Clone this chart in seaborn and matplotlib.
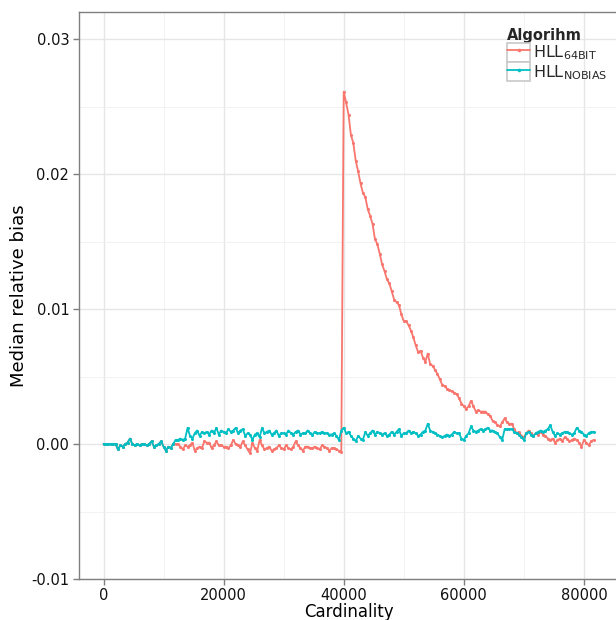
import matplotlib
matplotlib.use("Agg")
import matplotlib.pyplot as plt
import seaborn as sns
import pandas as pd
from matplotlib.lines import Line2D
from matplotlib.patches import Rectangle
from matplotlib.legend_handler import HandlerLine2D
from matplotlib.ticker import FixedLocator

# ---------------- data ----------------
cardinality = list(range(0, 81601, 400))

bias_nobias = [
    0.0000, 0.0000, 0.0000, 0.0000, 0.0000, 0.0000, -0.0004, -0.0001, -0.0002, 0.0000,
    0.0001, 0.0004, 0.0000, -0.0001, 0.0000, -0.0001, 0.0000, 0.0000, -0.0001, 0.0000,
    0.0002, -0.0002, -0.0001, 0.0000, 0.0002, -0.0002, -0.0005, -0.0002, -0.0003, 0.0000,
    0.0003, 0.0003, 0.0004, 0.0003, 0.0004, 0.0012, 0.0006, 0.0004, 0.0008, 0.0010,
    0.0006, 0.0009, 0.0008, 0.0009, 0.0007, 0.0010, 0.0008, 0.0012, 0.0007, 0.0010,
    0.0009, 0.0008, 0.0011, 0.0009, 0.0010, 0.0012, 0.0008, 0.0010, 0.0011, 0.0006,
    0.0008, 0.0007, 0.0003, 0.0007, 0.0008, 0.0005, 0.0012, 0.0008, 0.0009, 0.0010,
    0.0007, 0.0008, 0.0010, 0.0006, 0.0008, 0.0008, 0.0007, 0.0010, 0.0008, 0.0007,
    0.0009, 0.0010, 0.0007, 0.0008, 0.0008, 0.0010, 0.0008, 0.0007, 0.0009, 0.0008,
    0.0008, 0.0009, 0.0008, 0.0008, 0.0007, 0.0007, 0.0008, 0.0006, 0.0003, 0.0010,
    0.0012, 0.0008, 0.0009, 0.0006, 0.0004, 0.0002, 0.0006, 0.0004, 0.0003, 0.0009,
    0.0006, 0.0008, 0.0010, 0.0007, 0.0009, 0.0008, 0.0007, 0.0008, 0.0006, 0.0007,
    0.0009, 0.0007, 0.0009, 0.0011, 0.0006, 0.0008, 0.0008, 0.0010, 0.0008, 0.0009,
    0.0008, 0.0006, 0.0007, 0.0009, 0.0010, 0.0015, 0.0010, 0.0009, 0.0008, 0.0007,
    0.0006, 0.0005, 0.0006, 0.0007, 0.0006, 0.0007, 0.0009, 0.0008, 0.0008, 0.0004,
    0.0003, 0.0006, 0.0008, 0.0013, 0.0010, 0.0009, 0.0010, 0.0011, 0.0010, 0.0011,
    0.0012, 0.0010, 0.0010, 0.0009, 0.0008, 0.0005, 0.0003, 0.0011, 0.0011, 0.0011,
    0.0011, 0.0009, 0.0008, 0.0007, 0.0005, 0.0003, 0.0008, 0.0009, 0.0007, 0.0006,
    0.0008, 0.0009, 0.0010, 0.0009, 0.0010, 0.0011, 0.0014, 0.0009, 0.0006, 0.0008,
    0.0007, 0.0008, 0.0009, 0.0009, 0.0008, 0.0007, 0.0008, 0.0012, 0.0010, 0.0009,
    0.0007, 0.0006, 0.0008, 0.0009, 0.0009,
]

bias_64bit = [
    0.0000, 0.0000, 0.0000, 0.0000, 0.0000, 0.0000, -0.0004, -0.0001, -0.0002, 0.0000,
    0.0001, 0.0004, 0.0000, -0.0001, 0.0000, -0.0001, 0.0000, 0.0000, -0.0001, 0.0000,
    0.0002, -0.0002, -0.0001, 0.0000, 0.0002, -0.0002, -0.0005, -0.0002, -0.0003, 0.0000,
    0.0000, 0.0000, -0.0002, -0.0004, -0.0001, -0.0002, -0.0001, 0.0001, -0.0005, -0.0003,
    -0.0002, -0.0003, 0.0002, 0.0001, 0.0001, -0.0003, -0.0001, 0.0002, -0.0001, -0.0001,
    -0.0002, -0.0002, -0.0003, -0.0001, 0.0003, 0.0000, -0.0001, -0.0002, 0.0002, -0.0001,
    -0.0004, -0.0007, 0.0001, -0.0003, -0.0005, 0.0003, -0.0001, -0.0004, -0.0003, -0.0002,
    -0.0005, -0.0004, -0.0003, -0.0001, -0.0003, -0.0004, -0.0001, -0.0003, -0.0004, -0.0002,
    0.0002, -0.0001, -0.0003, -0.0005, -0.0002, -0.0002, -0.0003, -0.0003, -0.0002, -0.0003,
    -0.0004, -0.0001, -0.0002, -0.0003, -0.0005, -0.0003, -0.0003, -0.0004, -0.0005, -0.0006,
    0.0261, 0.0253, 0.0244, 0.0229, 0.0223, 0.0210, 0.0202, 0.0193, 0.0186, 0.0183,
    0.0174, 0.0169, 0.0163, 0.0152, 0.0148, 0.0141, 0.0133, 0.0128, 0.0122, 0.0119,
    0.0113, 0.0107, 0.0105, 0.0103, 0.0096, 0.0091, 0.0091, 0.0088, 0.0084, 0.0079,
    0.0073, 0.0068, 0.0069, 0.0064, 0.0061, 0.0067, 0.0059, 0.0058, 0.0055, 0.0052,
    0.0048, 0.0044, 0.0043, 0.0041, 0.0040, 0.0039, 0.0038, 0.0037, 0.0034, 0.0030,
    0.0028, 0.0026, 0.0028, 0.0032, 0.0028, 0.0024, 0.0025, 0.0024, 0.0024, 0.0024,
    0.0022, 0.0021, 0.0017, 0.0016, 0.0014, 0.0013, 0.0016, 0.0019, 0.0016, 0.0015,
    0.0015, 0.0011, 0.0008, 0.0009, 0.0006, 0.0005, 0.0008, 0.0010, 0.0008, 0.0006,
    0.0008, 0.0007, 0.0009, 0.0007, 0.0006, 0.0004, 0.0003, 0.0004, 0.0001, 0.0003,
    0.0004, 0.0002, 0.0005, 0.0004, 0.0002, 0.0003, 0.0004, 0.0003, 0.0001, -0.0002,
    0.0003, 0.0001, -0.0001, 0.0002, 0.0003,
]

algorithms = ["Hll64Bit", "HllNoBias"]
legend_labels = [r"HLL$_{\mathregular{64BIT}}$", r"HLL$_{\mathregular{NOBIAS}}$"]
colors = ["#F8766D", "#00BFC4"]

x_ticks = [0, 20000, 40000, 60000, 80000]
x_tick_labels = ["0", "20000", "40000", "60000", "80000"]
x_minor = [10000, 30000, 50000, 70000]
y_ticks = [-0.01, 0.00, 0.01, 0.02, 0.03]
y_tick_labels = ["-0.01", "0.00", "0.01", "0.02", "0.03"]
y_minor = [-0.005, 0.005, 0.015, 0.025]

df = pd.concat([
    pd.DataFrame({"Cardinality": cardinality, "bias": bias_64bit, "Algorithm": algorithms[0]}),
    pd.DataFrame({"Cardinality": cardinality, "bias": bias_nobias, "Algorithm": algorithms[1]}),
], ignore_index=True)

# ---------------- plot ----------------
sns.set_style("white")
plt.rcParams["font.family"] = ["DejaVu Sans"]
plt.rcParams["axes.unicode_minus"] = False

W, H = 616, 620
fig = plt.figure(figsize=(W / 100, H / 100), dpi=100)
ax = fig.add_axes([79 / W, 1 - 579 / H, (618 - 79) / W, (579 - 12) / H])

sns.lineplot(data=df, x="Cardinality", y="bias", hue="Algorithm",
             hue_order=algorithms, palette=colors, marker="o", markersize=2.2,
             markeredgewidth=0, linewidth=1.3, legend=False, ax=ax, estimator=None)

ax.set_xlim(-4080, 85680)
ax.set_ylim(-0.01, 0.032)

ax.xaxis.set_major_locator(FixedLocator(x_ticks))
ax.set_xticklabels(x_tick_labels)
ax.xaxis.set_minor_locator(FixedLocator(x_minor))
ax.yaxis.set_major_locator(FixedLocator(y_ticks))
ax.set_yticklabels(y_tick_labels)
ax.yaxis.set_minor_locator(FixedLocator(y_minor))

ax.set_axisbelow(True)
ax.grid(which="major", color="#e6e6e6", linewidth=1.0)
ax.grid(which="minor", color="#f0f0f0", linewidth=0.6)

for s in ["top", "left", "bottom", "right"]:
    ax.spines[s].set_color("#7f7f7f")
    ax.spines[s].set_linewidth(1.0)

ax.tick_params(which="major", direction="out", length=4, width=1, color="#7f7f7f",
               labelsize=10.5, labelcolor="#111111", pad=2.5, left=True, bottom=True)
ax.tick_params(which="major", axis="y", pad=3)
ax.tick_params(which="minor", length=0)

ax.set_xlabel("Cardinality", fontsize=12, labelpad=0, color="black")
ax.set_ylabel("Median relative bias", fontsize=13, labelpad=2, color="black")


class BoxedLine(HandlerLine2D):
    def create_artists(self, legend, orig_handle, xdescent, ydescent, width, height,
                       fontsize, trans):
        rect = Rectangle((-xdescent, -ydescent), width, height, facecolor="white",
                         edgecolor="#c8c8c8", linewidth=1.2, transform=trans)
        arts = super().create_artists(legend, orig_handle, xdescent, ydescent, width,
                                      height, fontsize, trans)
        return [rect] + list(arts)


handles = [Line2D([], [], color=c, lw=1.3, marker="o", ms=2.6, markeredgewidth=0)
           for c in colors]
leg = ax.legend(handles, legend_labels, title="Algorihm", loc="upper left",
                bbox_to_anchor=(507 / W, 1 - 28 / H), bbox_transform=fig.transFigure,
                frameon=False, handlelength=1.45, handleheight=1.45, labelspacing=0.0,
                handletextpad=0.15, borderpad=0, borderaxespad=0, fontsize=11.5,
                title_fontproperties={"weight": "bold", "size": 10.5},
                alignment="left", numpoints=1, handler_map={Line2D: BoxedLine()})

fig.savefig("out.png", dpi=100)
